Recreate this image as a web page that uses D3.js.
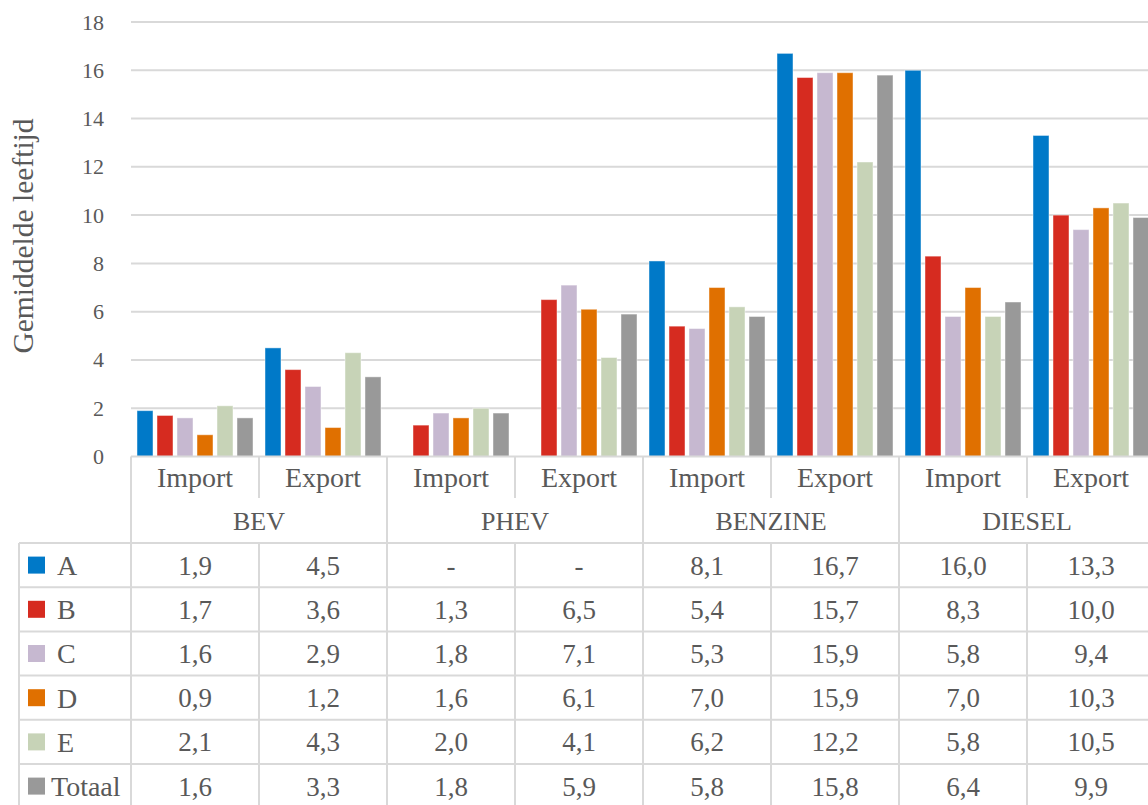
<!DOCTYPE html>
<html>
<head>
<meta charset="utf-8">
<script src="https://cdn.jsdelivr.net/npm/d3@7"></script>
<style>
  html, body { margin: 0; padding: 0; background: #fff; }
  svg { display: block; font-family: "Liberation Serif", "DejaVu Serif", serif; font-variant-numeric: oldstyle-nums; }
</style>
</head>
<body>
<svg id="chart" width="1148" height="805"></svg>
<script>
// Fuel types and flow directions (two columns per fuel type)
const fuels = ["BEV", "PHEV", "BENZINE", "DIESEL"];
const flows = ["Import", "Export"];

// Series (one per row of the data table)
const seriesNames = ["A", "B", "C", "D", "E", "Totaal"];
const seriesColors = ["#0079C8", "#D62B20", "#C6B8D0", "#E07000", "#C7D3B7", "#999999"];

// Average age per column: BEV Imp, BEV Exp, PHEV Imp, PHEV Exp, BENZINE Imp, BENZINE Exp, DIESEL Imp, DIESEL Exp
const valuesA      = [1.9, 4.5, null, null, 8.1, 16.7, 16.0, 13.3];
const valuesB      = [1.7, 3.6, 1.3, 6.5, 5.4, 15.7, 8.3, 10.0];
const valuesC      = [1.6, 2.9, 1.8, 7.1, 5.3, 15.9, 5.8, 9.4];
const valuesD      = [0.9, 1.2, 1.6, 6.1, 7.0, 15.9, 7.0, 10.3];
const valuesE      = [2.1, 4.3, 2.0, 4.1, 6.2, 12.2, 5.8, 10.5];
const valuesTotaal = [1.6, 3.3, 1.8, 5.9, 5.8, 15.8, 6.4, 9.9];

const yTicks = [0, 2, 4, 6, 8, 10, 12, 14, 16, 18];
const yTitle = "Gemiddelde leeftijd";

const seriesValues = [valuesA, valuesB, valuesC, valuesD, valuesE, valuesTotaal];

// Column keys: fuel|flow
const columns = [];
fuels.forEach(f => flows.forEach(fl => columns.push({ fuel: f, flow: fl, key: f + "|" + fl })));

const svg = d3.select("#chart");
const textColor = "#595959";
const lineColor = "#D9D9D9";

// Layout
const plotLeft = 131, plotTop = 22, plotBottom = 456.5;
const colWidth = 128;
const plotRight = plotLeft + colWidth * columns.length;
const tableLeft = 19;
const flowRowBottom = 498;
const fuelRowBottom = 543;
const rowH = 44.2;

const x = d3.scaleBand().domain(columns.map(c => c.key)).range([plotLeft, plotRight]).padding(0);
const xs = d3.scaleBand().domain(seriesNames).range([6, colWidth - 6]).paddingInner(0.2).paddingOuter(0);
const y = d3.scaleLinear().domain([0, 18]).range([plotBottom, plotTop]);

// Gridlines
svg.append("g")
  .selectAll("line")
  .data(yTicks.filter(t => t > 0))
  .join("line")
  .attr("x1", plotLeft).attr("x2", plotRight)
  .attr("y1", d => y(d)).attr("y2", d => y(d))
  .attr("stroke", lineColor).attr("stroke-width", 2);

// Y axis labels
const yAxis = d3.axisLeft(y).tickValues(yTicks).tickSize(0).tickPadding(0).tickFormat(d3.format("d"));
const yg = svg.append("g").attr("transform", `translate(104,0)`).call(yAxis);
yg.select(".domain").remove();
yg.selectAll("text")
  .attr("fill", textColor)
  .style("font-size", "22px")
  .style("font-family", "Liberation Serif, serif");

// Y title
svg.append("text")
  .attr("transform", `translate(33,236) rotate(-90)`)
  .attr("text-anchor", "middle")
  .attr("fill", textColor)
  .style("font-size", "29.5px")
  .text(yTitle);

// Bars
const barData = [];
seriesNames.forEach((s, si) => {
  columns.forEach((c, ci) => {
    const v = seriesValues[si][ci];
    if (v != null) barData.push({ series: s, col: c.key, value: v, color: seriesColors[si] });
  });
});
svg.append("g")
  .selectAll("rect")
  .data(barData)
  .join("rect")
  .attr("x", d => x(d.col) + xs(d.series))
  .attr("width", xs.bandwidth())
  .attr("y", d => y(d.value))
  .attr("height", d => y(0) - y(d.value))
  .attr("fill", d => d.color)
  .attr("stroke", "#ffffff")
  .attr("stroke-opacity", 0.45)
  .attr("stroke-width", 1);

// Table grid
const grid = svg.append("g").attr("stroke", lineColor).attr("stroke-width", 2);
const nRows = seriesNames.length;
const tableBottom = fuelRowBottom + rowH * nRows;

// horizontal lines
grid.append("line").attr("x1", plotLeft).attr("x2", plotRight).attr("y1", plotBottom).attr("y2", plotBottom);
for (let r = 0; r <= nRows; r++) {
  const yy = fuelRowBottom + rowH * r;
  grid.append("line").attr("x1", tableLeft).attr("x2", plotRight).attr("y1", yy).attr("y2", yy);
}
// vertical lines in the flow row (every column)
columns.forEach(c => {
  grid.append("line").attr("x1", x(c.key)).attr("x2", x(c.key)).attr("y1", plotBottom).attr("y2", flowRowBottom);
});
// vertical lines in the fuel row (fuel boundaries)
fuels.forEach(f => {
  const xx = x(f + "|Import");
  grid.append("line").attr("x1", xx).attr("x2", xx).attr("y1", flowRowBottom).attr("y2", fuelRowBottom);
});
// vertical lines in the data rows
[tableLeft].concat(columns.map(c => x(c.key))).forEach(xx => {
  grid.append("line").attr("x1", xx).attr("x2", xx).attr("y1", fuelRowBottom).attr("y2", tableBottom);
});

// Flow labels
svg.append("g")
  .selectAll("text")
  .data(columns)
  .join("text")
  .attr("x", d => x(d.key) + colWidth / 2)
  .attr("y", (plotBottom + flowRowBottom) / 2)
  .attr("dy", "0.35em")
  .attr("text-anchor", "middle")
  .attr("fill", textColor)
  .style("font-size", "28px")
  .text(d => d.flow);

// Fuel labels
svg.append("g")
  .selectAll("text")
  .data(fuels)
  .join("text")
  .attr("x", d => x(d + "|Import") + colWidth)
  .attr("y", (flowRowBottom + fuelRowBottom) / 2)
  .attr("dy", "0.35em")
  .attr("text-anchor", "middle")
  .attr("fill", textColor)
  .style("font-size", "26px")
  .text(d => d);

// Legend column
const fmt = v => v == null ? "-" : d3.format(".1f")(v).replace(".", ",");
seriesNames.forEach((s, si) => {
  const cy = fuelRowBottom + rowH * si + rowH / 2;
  svg.append("rect")
    .attr("x", 28).attr("y", cy - 8.5)
    .attr("width", 17).attr("height", 17)
    .attr("fill", seriesColors[si]);
  svg.append("text")
    .attr("x", s === "Totaal" ? 51 : 57)
    .attr("y", cy)
    .attr("dy", "0.35em")
    .attr("fill", textColor)
    .style("font-size", "28px")
    .text(s);
  svg.append("g")
    .selectAll("text")
    .data(columns.map((c, ci) => ({ key: c.key, v: seriesValues[si][ci] })))
    .join("text")
    .attr("x", d => x(d.key) + colWidth / 2)
    .attr("y", cy)
    .attr("dy", "0.35em")
    .attr("text-anchor", "middle")
    .attr("fill", textColor)
    .style("font-size", "27px")
    .text(d => fmt(d.v));
});
</script>
</body>
</html>
